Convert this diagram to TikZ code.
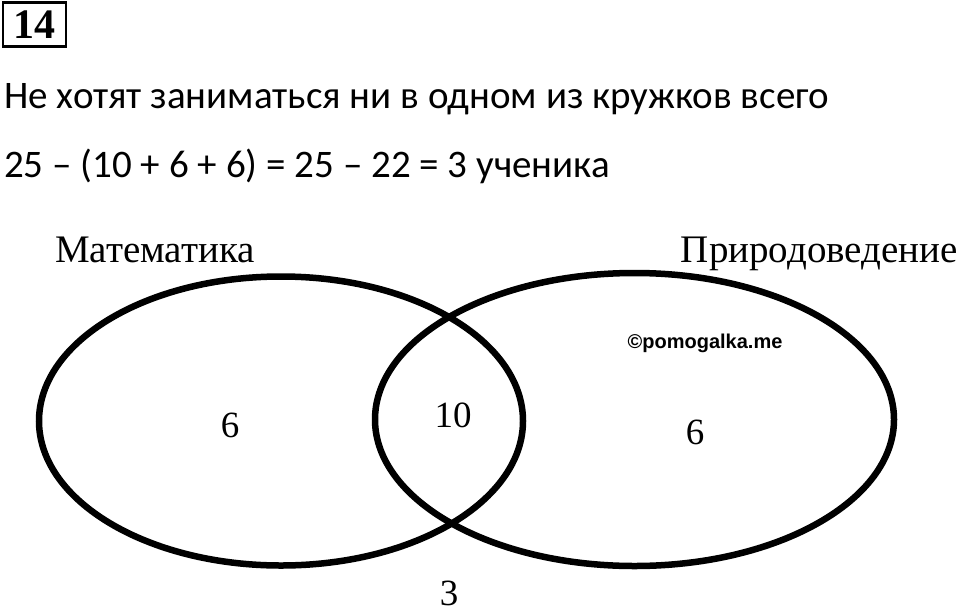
\documentclass[tikz,border=0pt]{standalone}
\usepackage{fontspec}
\setmainfont{Carlito}
\newfontfamily\tnr{Liberation Serif}
\newfontfamily\arl{Liberation Sans}
\begin{document}
\begin{tikzpicture}[x=1pt,y=-1pt,
  venn/.style={draw=black,line width=6.5pt},
  vlabel/.style={inner sep=0pt,font=\tnr\fontsize{37}{40}\selectfont},
  tlabel/.style={inner sep=0pt,font=\tnr\fontsize{39}{42}\selectfont},
  maintext/.style={inner sep=0pt,anchor=base west,font=\fontsize{39}{44}\selectfont},
  numbox/.style={draw=black,line width=2.8pt,inner sep=0pt,minimum width=63pt,minimum height=44pt,font=\tnr\bfseries\fontsize{42}{44}\selectfont}]
\useasboundingbox[fill=white] (0,0) rectangle (960,613);
\node[numbox] (num) at (34.5,24.5) {14};
\node[maintext] (line1) at (4,108) {Не хотят заниматься ни в одном из кружков всего};
\node[maintext] (line2) at (4,177) {25 – (10 + 6 + 6) = 25 – 22 = 3 ученика};
\draw[venn] (281,421) ellipse [x radius=242, y radius=144.5];
\draw[venn] (634.5,419.5) ellipse [x radius=259.5, y radius=146.5];
\node[tlabel,anchor=base west] (math) at (55,262) {Математика};
\node[tlabel,anchor=base east] (nat) at (958,262) {Природоведение};
\node[vlabel] (l6) at (230,425) {6};
\node[vlabel] (c10) at (453,415) {10};
\node[vlabel] (r6) at (695,432) {6};
\node[vlabel,anchor=base] (out3) at (449,605) {3};
\node[inner sep=0pt,font=\arl\bfseries\fontsize{20}{22}\selectfont] (wm) at (705,343) {©pomogalka.me};
\end{tikzpicture}
\end{document}
